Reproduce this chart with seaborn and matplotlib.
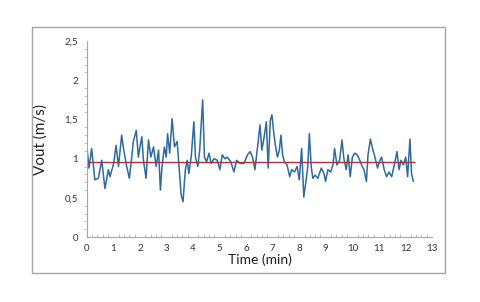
import numpy as np
import pandas as pd
import matplotlib
matplotlib.use("Agg")
import matplotlib.pyplot as plt
import matplotlib.ticker as mticker
from matplotlib.patches import Rectangle
import seaborn as sns

# values
time_min = [
    0.00, 0.08, 0.18, 0.30, 0.43, 0.56, 0.68, 0.81, 0.87, 1.01,
    1.10, 1.19, 1.31, 1.38, 1.50, 1.60, 1.69, 1.75, 1.86, 1.94,
    2.01, 2.07, 2.13, 2.23, 2.32, 2.41, 2.51, 2.61, 2.70, 2.77,
    2.83, 2.92, 2.99, 3.04, 3.12, 3.21, 3.30, 3.40, 3.47, 3.55,
    3.62, 3.71, 3.78, 3.84, 3.93, 4.03, 4.09, 4.18, 4.25, 4.36,
    4.43, 4.51, 4.60, 4.68, 4.79, 4.91, 5.01, 5.10, 5.19, 5.29,
    5.42, 5.54, 5.64, 5.77, 5.92, 6.05, 6.15, 6.24, 6.33, 6.43,
    6.52, 6.59, 6.68, 6.76, 6.83, 6.91, 6.97, 7.03, 7.10, 7.18,
    7.25, 7.31, 7.37, 7.44, 7.54, 7.64, 7.71, 7.82, 7.92, 8.00,
    8.09, 8.17, 8.26, 8.32, 8.38, 8.45, 8.51, 8.60, 8.70, 8.83,
    8.93, 8.99, 9.08, 9.18, 9.27, 9.33, 9.42, 9.52, 9.61, 9.68,
    9.77, 9.84, 9.92, 10.00, 10.09, 10.18, 10.28, 10.37, 10.44, 10.53,
    10.59, 10.68, 10.76, 10.85, 10.95, 11.04, 11.10, 11.20, 11.29, 11.38,
    11.48, 11.58, 11.68, 11.76, 11.83, 11.92, 12.01, 12.08, 12.17, 12.23,
    12.30,
]
vout = [
    1.15, 0.88, 1.13, 0.73, 0.75, 0.98, 0.62, 0.86, 0.77, 0.94,
    1.17, 0.90, 1.30, 1.13, 0.90, 0.75, 1.02, 1.22, 1.36, 1.02,
    1.17, 1.28, 0.98, 0.75, 1.24, 1.02, 1.15, 0.90, 1.11, 0.60,
    0.90, 1.15, 1.02, 1.32, 1.07, 1.51, 1.15, 1.22, 0.90, 0.54,
    0.45, 0.86, 0.98, 0.81, 1.02, 1.47, 1.02, 0.90, 1.11, 1.75,
    1.02, 0.96, 1.07, 0.94, 1.00, 0.98, 0.86, 1.05, 1.00, 1.02,
    0.96, 0.83, 0.98, 0.94, 0.94, 1.05, 1.09, 1.02, 0.86, 1.15,
    1.43, 1.11, 1.28, 1.47, 0.88, 1.49, 1.56, 1.36, 1.17, 1.02,
    1.11, 1.30, 1.05, 0.96, 0.92, 0.77, 0.86, 0.83, 0.90, 0.73,
    1.13, 0.51, 0.73, 0.90, 1.32, 0.90, 0.75, 0.79, 0.75, 0.88,
    0.81, 0.71, 0.86, 0.83, 0.92, 1.13, 0.92, 0.98, 1.24, 1.00,
    0.86, 1.05, 0.77, 1.02, 1.07, 1.05, 0.98, 0.90, 0.86, 0.71,
    1.05, 1.25, 1.13, 1.02, 0.88, 0.98, 1.02, 0.86, 0.77, 0.83,
    0.77, 0.92, 1.09, 0.86, 0.98, 0.92, 1.02, 0.77, 1.25, 0.81,
    0.71,
]
mean_vout = 0.96
mean_span = [0.0, 12.35]
x_ticks = list(range(0, 14))
y_ticks = [0, 0.5, 1, 1.5, 2, 2.5]

df = pd.DataFrame({"time": time_min, "vout": vout})

sns.set_theme(style="white")
plt.rcParams["font.family"] = ["Lato", "DejaVu Sans"]

fig = plt.figure(figsize=(4.8, 3.02), dpi=100)
ax = fig.add_axes([0.181, 0.215, 0.719, 0.649])

# outer chart frame
fig.patches.append(Rectangle((0.067, 0.096), 0.86, 0.815, transform=fig.transFigure,
                             fill=False, edgecolor="#a6a6a6", linewidth=1.0))

sns.lineplot(data=df, x="time", y="vout", ax=ax, color="#2f6a9e", linewidth=1.1)
ax.hlines(mean_vout, mean_span[0], mean_span[1], color="#a8323e", linewidth=1.0)

ax.set_xlim(0, 13)
ax.set_ylim(0, 2.5)
ax.set_xticks(x_ticks)
ax.set_yticks(y_ticks)
ax.xaxis.set_minor_locator(mticker.MultipleLocator(0.2))
ax.yaxis.set_minor_locator(mticker.MultipleLocator(0.1))
comma = mticker.FuncFormatter(lambda v, p: f"{v:g}".replace(".", ","))
ax.yaxis.set_major_formatter(comma)

for s in ["top", "right"]:
    ax.spines[s].set_visible(False)
for s in ["left", "bottom"]:
    ax.spines[s].set_color("#a6a6a6")
    ax.spines[s].set_linewidth(0.8)

ax.tick_params(axis="both", which="both", labelsize=7, colors="#a6a6a6", labelcolor="#333333")
ax.tick_params(axis="y", which="major", direction="out", length=3, width=0.6)
ax.tick_params(axis="y", which="minor", direction="out", length=2, width=0.5, left=True)
ax.tick_params(axis="x", which="major", direction="in", length=3, width=0.6, pad=5)
ax.tick_params(axis="x", which="minor", direction="in", length=2, width=0.5, bottom=True)

ax.set_xlabel("Time (min)", fontsize=10, labelpad=0, color="#222222")
ax.set_ylabel("Vout (m/s)", fontsize=11, labelpad=12, color="#222222")

fig.savefig("out.png", dpi=100)
